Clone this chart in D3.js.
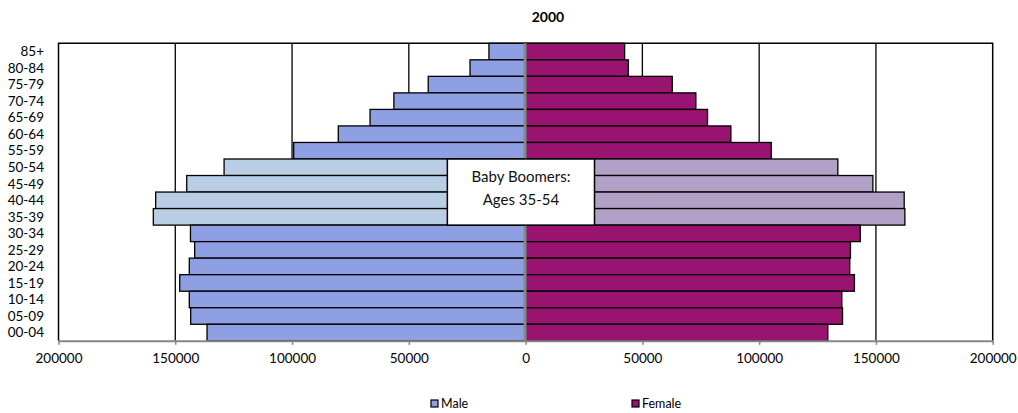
<!DOCTYPE html>
<html>
<head>
<meta charset="utf-8">
<script src="https://cdn.jsdelivr.net/npm/d3@7/dist/d3.min.js"></script>
<style>
  html, body { margin: 0; padding: 0; background: #fff; }
  svg { display: block; font-family: Lato, "Open Sans", sans-serif; }
</style>
</head>
<body>
<svg id="chart" width="1018" height="413"></svg>
<script>
// Age groups, top of the pyramid first
const ageGroups = ["85+", "80-84", "75-79", "70-74", "65-69", "60-64", "55-59", "50-54", "45-49",
  "40-44", "35-39", "30-34", "25-29", "20-24", "15-19", "10-14", "05-09", "00-04"];
const maleValues = [15700, 23800, 41700, 56400, 66600, 80200, 99300, 129100, 145100,
  158400, 159400, 143500, 141700, 144000, 148100, 144000, 143400, 136400];
const femaleValues = [42400, 44000, 62800, 72900, 77900, 87900, 105200, 133700, 148700,
  162100, 162400, 143300, 139100, 138800, 140800, 135400, 135700, 129400];
const boomerGroups = ["50-54", "45-49", "40-44", "35-39"];
const xTicks = [-200000, -150000, -100000, -50000, 0, 50000, 100000, 150000, 200000];
const seriesNames = ["Male", "Female"];
const chartTitle = "2000";
const noteLines = ["Baby Boomers:", "Ages 35-54"];
const noteSpan = [-33500, 29500];

const colors = {
  male: "#8E9FE4", female: "#991370",
  maleBoomer: "#B9CDE5", femaleBoomer: "#B1A1C7"
};

const svg = d3.select("#chart");
const plot = { left: 58.5, right: 992.7, top: 43.3, bottom: 340.8 };

const x = d3.scaleLinear().domain([-200000, 200000]).range([plot.left, plot.right]);
const y = d3.scaleBand().domain(ageGroups).range([plot.top, plot.bottom]).padding(0);

// Title
svg.append("text")
  .attr("x", 548).attr("y", 22)
  .attr("text-anchor", "middle")
  .attr("font-size", 14).attr("font-weight", "bold")
  .text(chartTitle);

// Vertical gridlines
svg.append("g").selectAll("line")
  .data(xTicks.filter(t => t !== 0 && Math.abs(t) !== 200000))
  .join("line")
  .attr("x1", d => x(d)).attr("x2", d => x(d))
  .attr("y1", plot.top).attr("y2", plot.bottom)
  .attr("stroke", "#000").attr("stroke-width", 1.3);

// Plot border: left, top, right
svg.append("path")
  .attr("d", `M${x(-200000)},${plot.bottom}V${plot.top}H${x(200000)}V${plot.bottom}`)
  .attr("fill", "none").attr("stroke", "#000").attr("stroke-width", 1.5);

const rows = ageGroups.map((g, i) => ({ group: g, male: maleValues[i], female: femaleValues[i] }));
const isBoomer = g => boomerGroups.includes(g);

// Male bars (extend left from zero)
svg.append("g").selectAll("rect")
  .data(rows).join("rect")
  .attr("x", d => x(-d.male))
  .attr("width", d => x(0) - x(-d.male))
  .attr("y", d => y(d.group))
  .attr("height", y.bandwidth())
  .attr("fill", d => isBoomer(d.group) ? colors.maleBoomer : colors.male)
  .attr("stroke", "#000").attr("stroke-width", 1.3);

// Female bars (extend right from zero)
svg.append("g").selectAll("rect")
  .data(rows).join("rect")
  .attr("x", x(0))
  .attr("width", d => x(d.female) - x(0))
  .attr("y", d => y(d.group))
  .attr("height", y.bandwidth())
  .attr("fill", d => isBoomer(d.group) ? colors.femaleBoomer : colors.female)
  .attr("stroke", "#000").attr("stroke-width", 1.3);

// Central zero axis
svg.append("line")
  .attr("x1", x(0) - 0.5).attr("x2", x(0) - 0.5)
  .attr("y1", plot.top).attr("y2", plot.bottom)
  .attr("stroke", "#868686").attr("stroke-width", 3);

// Bottom value axis
const xAxis = d3.axisBottom(x)
  .tickValues(xTicks)
  .tickFormat(d => String(Math.abs(d)))
  .tickSize(4).tickSizeOuter(0);
const gx = svg.append("g").attr("transform", `translate(0,${plot.bottom})`).call(xAxis);
gx.select(".domain").attr("stroke", "#868686").attr("stroke-width", 2);
gx.selectAll(".tick line").attr("stroke", "#868686").attr("stroke-width", 1.5);
gx.selectAll(".tick text")
  .attr("y", 12.5).attr("fill", "#000")
  .attr("font-size", 13.5).attr("font-family", "Lato, sans-serif");

// Age group labels
svg.append("g").selectAll("text")
  .data(ageGroups).join("text")
  .attr("x", 44)
  .attr("y", d => y(d) + y.bandwidth() / 2)
  .attr("dy", "0.35em")
  .attr("text-anchor", "end")
  .attr("font-size", 13.5)
  .text(d => d);

// Annotation box over the boomer rows
const boxTop = y(boomerGroups[0]);
const boxBottom = y(boomerGroups[boomerGroups.length - 1]) + y.bandwidth();
svg.append("rect")
  .attr("x", x(noteSpan[0])).attr("y", boxTop)
  .attr("width", x(noteSpan[1]) - x(noteSpan[0]))
  .attr("height", boxBottom - boxTop)
  .attr("fill", "#fff").attr("stroke", "#000").attr("stroke-width", 1.5);
const noteX = (x(noteSpan[0]) + x(noteSpan[1])) / 2;
svg.append("g").selectAll("text")
  .data(noteLines).join("text")
  .attr("x", noteX)
  .attr("y", (d, i) => boxTop + 18 + i * 23)
  .attr("dy", "0.35em")
  .attr("text-anchor", "middle")
  .attr("font-size", 15)
  .attr("fill", "#111")
  .text(d => d);

// Legend
const legendX = [431, 632];
const legend = svg.append("g").selectAll("g")
  .data(seriesNames).join("g")
  .attr("transform", (d, i) => `translate(${legendX[i]},400)`);
legend.append("rect")
  .attr("width", 7).attr("height", 7)
  .attr("fill", (d, i) => i === 0 ? colors.male : colors.female)
  .attr("stroke", "#000").attr("stroke-width", 1.2);
legend.append("text")
  .attr("x", 10).attr("y", 4).attr("dy", "0.35em")
  .attr("font-size", 12.5)
  .text(d => d);
</script>
</body>
</html>
